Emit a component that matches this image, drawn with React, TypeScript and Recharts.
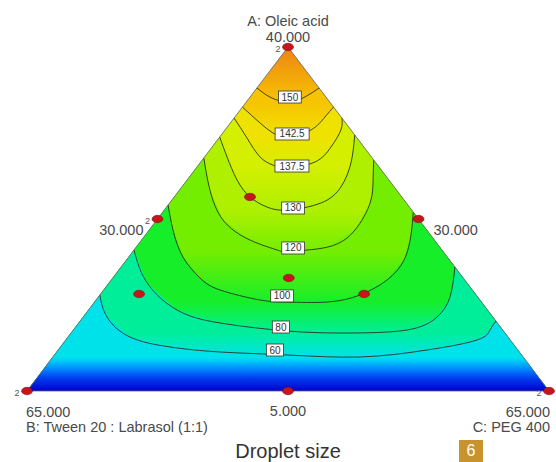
import React from 'react';
import { ComposedChart, Area, Line, Scatter, XAxis, YAxis } from 'recharts';

// mixture region: A 5..40, B 30..65, C 30..65 (sum 100)
const A_MIN = 5;
const C_MIN = 30;
const SPAN = 35;

// corner compositions as [A, C]
const cornerTop = [40, 30];
const cornerLeft = [5, 30];
const cornerRight = [5, 65];

const componentNames = ['A: Oleic acid', 'B: Tween 20 : Labrasol (1:1)', 'C: PEG 400'];
const vertexValues = ['40.000', '65.000', '65.000'];
const edgeLowValues = ['30.000', '30.000', '5.000'];

// contour levels of droplet size, highest first
const levels = [150, 142.5, 137.5, 130, 120, 100, 80, 60];

// contour traces, [A: Oleic acid, C: PEG 400]
const c150 = [[35.83, 30], [34.91, 31.33], [34.4, 32.8], [34.91, 33.68], [35.83, 34.17]];
const c1425 = [[33.89, 30], [32.27, 31.99], [31.25, 33.37], [30.84, 34.58], [31.55, 35.76], [32.88, 36.04], [33.89, 36.11]];
const c1375 = [[32.77, 30], [30.74, 31.88], [28.81, 33.72], [27.99, 34.99], [27.69, 36.16], [28.3, 37.66], [29.82, 37.97], [31.55, 37.77], [32.77, 37.23]];
const c130 = [[30.84, 30], [28.81, 31.51], [26.47, 33.35], [24.74, 35.08], [23.72, 36.73], [23.41, 38.29], [24.13, 40.15], [25.75, 40.67], [28.2, 40.12], [31.05, 38.95]];
const c120 = [[28.71, 30], [25.45, 32.04], [22.4, 34.44], [20.36, 37.27], [19.35, 39.59], [19.24, 40.38], [19.65, 42.85], [21.38, 43.8], [24.13, 43.44], [26.47, 42.47], [28.5, 41.5]];
const c100 = [[23.92, 30], [21.38, 31.6], [18.63, 33.64], [16.5, 35.85], [15.28, 37.8], [14.26, 40.99], [14.05, 42.97], [14.05, 45.59], [14.77, 47.45], [16.29, 48.49], [18.33, 48.62], [20.87, 47.81], [23.21, 46.79]];
const c80 = [[19.35, 30], [15.99, 32.56], [13.24, 35.94], [11.92, 39.48], [11.1, 44.45], [10.9, 48.51], [11.21, 52.38], [12.53, 53.73], [14.56, 53.58], [17.62, 52.38]];
const c60 = [[14.77, 30], [12.53, 31.6], [10.49, 34.16], [9.48, 37.35], [8.97, 40.96], [8.66, 45.67], [8.46, 50.6], [9.17, 54.73], [10.19, 57.58], [11.21, 57.94], [12.12, 57.88]];
const contours = [c150, c1425, c1375, c130, c120, c100, c80, c60];

// where the level boxes sit
const labelSpots = [[34.91, 32.67], [31.15, 34.7], [27.89, 36.32], [23.62, 38.53], [19.55, 40.57], [14.67, 42.27], [11.51, 43.77], [9.17, 44.54]];

// design points [A, C] and replicate count
const designPts = [
  [40, 30, 2], [5, 30, 2], [5, 65, 2], [22.5, 30, 2], [22.5, 47.5, 1], [5, 47.5, 1],
  [16.5, 41.8, 1], [24.74, 35.08, 1], [14.87, 32.58, 1], [14.87, 47.67, 1],
];

const levelColor: Record<string, string> = {
  150: '#f6c400', 142.5: '#f0e200', 137.5: '#d4ef00', 130: '#aef000',
  120: '#74ee00', 100: '#16ee2a', 80: '#00ee9a', 60: '#00e2ea',
};
const FONT = '"Liberation Sans", Arial, sans-serif';

const toXY = (p: number[]) => ({
  x: (p[1] - C_MIN) / SPAN + (p[0] - A_MIN) / (2 * SPAN),
  y: (p[0] - A_MIN) / SPAN,
});

const triangle = [cornerLeft, cornerTop, cornerRight].map(toXY);
const outline = [cornerLeft, cornerTop, cornerRight, cornerLeft].map(toXY);

const bands = contours.map((pts, i) => {
  const xy = pts.map(toXY);
  const top = Math.max(...xy.map(p => p.y));
  const low = Math.min(...xy.map(p => p.y));
  const next = i < contours.length - 1 ? Math.min(...contours[i + 1].map(p => toXY(p).y)) : 0;
  return { level: levels[i], xy, top, low, next, data: [toXY(cornerLeft), ...xy, toXY(cornerRight)] };
});

const labelData = labelSpots.map((p, i) => ({ ...toXY(p), text: String(levels[i]) }));
const dotData = designPts.map(p => ({ ...toXY(p), reps: p[2] }));
const axisText = [
  { ...toXY(cornerTop), kind: 'top', value: vertexValues[0], name: componentNames[0] },
  { ...toXY(cornerLeft), kind: 'left', value: vertexValues[1], name: componentNames[1] },
  { ...toXY(cornerRight), kind: 'right', value: vertexValues[2], name: componentNames[2] },
  { ...toXY([22.5, 30]), kind: 'edgeL', value: edgeLowValues[0] },
  { ...toXY([22.5, 47.5]), kind: 'edgeR', value: edgeLowValues[1] },
  { ...toXY([5, 47.5]), kind: 'edgeB', value: edgeLowValues[2] },
];

const txt = { fontFamily: FONT, fontSize: 14.5, fill: '#4a4a4a' };

const AxisTextShape = (props: any) => {
  const { cx, cy, payload } = props;
  switch (payload.kind) {
    case 'top':
      return (
        <g>
          <text x={cx} y={cy - 21} textAnchor="middle" {...txt}>{payload.name}</text>
          <text x={cx} y={cy - 5} textAnchor="middle" {...txt}>{payload.value}</text>
        </g>
      );
    case 'left':
      return (
        <g>
          <text x={cx - 1} y={cy + 26} textAnchor="start" {...txt}>{payload.value}</text>
          <text x={cx - 1} y={cy + 41} textAnchor="start" {...txt}>{payload.name}</text>
        </g>
      );
    case 'right':
      return (
        <g>
          <text x={cx + 1} y={cy + 26} textAnchor="end" {...txt}>{payload.value}</text>
          <text x={cx + 1} y={cy + 41} textAnchor="end" {...txt}>{payload.name}</text>
        </g>
      );
    case 'edgeL':
      return <text x={cx - 14} y={cy + 16} textAnchor="end" {...txt}>{payload.value}</text>;
    case 'edgeR':
      return <text x={cx + 15} y={cy + 16} textAnchor="start" {...txt}>{payload.value}</text>;
    default:
      return <text x={cx} y={cy + 25} textAnchor="middle" {...txt}>{payload.value}</text>;
  }
};

const LevelBox = (props: any) => {
  const { cx, cy, payload } = props;
  const w = payload.text.length * 5.6 + 6;
  return (
    <g>
      <rect x={cx - w / 2} y={cy - 6} width={w} height={12} fill="#fff" stroke="#333" strokeWidth={0.8} />
      <text x={cx} y={cy + 3.5} textAnchor="middle" fontFamily={FONT} fontSize={10} fill="#333">{payload.text}</text>
    </g>
  );
};

const DesignDot = (props: any) => {
  const { cx, cy, payload } = props;
  return (
    <g>
      <ellipse cx={cx} cy={cy} rx={5.5} ry={3.7} fill="#c4161c" stroke="#8a0a0a" strokeWidth={0.6} />
      {payload.reps > 1 && (
        <text x={cx - 10} y={cy + 5} textAnchor="middle" fontFamily={FONT} fontSize={9} fill="#555">{payload.reps}</text>
      )}
    </g>
  );
};

export default function App() {
  return (
    <div style={{ position: 'absolute', left: 0, top: 0, width: 556, height: 462, background: '#fff' }}>
      <ComposedChart width={556} height={462} margin={{ top: 47, right: 7, bottom: 71, left: 27 }}>
        <defs>
          <linearGradient id="topBand" x1="0" y1="0" x2="0" y2="1">
            <stop offset={0} stopColor="#ee8414" />
            <stop offset={1 - bands[0].low} stopColor={levelColor[150]} />
          </linearGradient>
          {bands.map((b, i) => (
            <linearGradient key={b.level} id={`band${i}`} x1="0" y1="0" x2="0" y2="1">
              <stop offset={1 - b.low / b.top} stopColor={levelColor[b.level]} />
              {i < bands.length - 1 ? (
                <stop offset={1 - b.next / b.top} stopColor={levelColor[levels[i + 1]]} />
              ) : (
                [
                  <stop key="a" offset={1 - 0.088 / b.top} stopColor="#00ccf8" />,
                  <stop key="b" offset={1 - 0.065 / b.top} stopColor="#008cff" />,
                  <stop key="c" offset={1 - 0.038 / b.top} stopColor="#003ef0" />,
                  <stop key="d" offset={1} stopColor="#0000cc" />,
                ]
              )}
            </linearGradient>
          ))}
        </defs>
        <XAxis type="number" dataKey="x" domain={[0, 1]} hide />
        <YAxis type="number" dataKey="y" domain={[0, 1]} hide />

        <Area data={triangle} type="linear" dataKey="y" stroke="none" fill="url(#topBand)" fillOpacity={1}
          dot={false} activeDot={false} isAnimationActive={false} />
        {bands.map((b, i) => (
          <Area key={`a${b.level}`} data={b.data} type="linear" dataKey="y" stroke="none" fill={`url(#band${i})`}
            fillOpacity={1} dot={false} activeDot={false} isAnimationActive={false} />
        ))}

        {bands.map(b => (
          <Line key={`l${b.level}`} data={b.xy} type="natural" dataKey="y" stroke="#2b3320" strokeWidth={0.9}
            dot={false} activeDot={false} isAnimationActive={false} />
        ))}
        <Line data={outline} type="linear" dataKey="y" stroke="#5d6670" strokeWidth={0.8}
          dot={false} activeDot={false} isAnimationActive={false} />

        <Scatter data={labelData} shape={LevelBox} isAnimationActive={false} />
        <Scatter data={axisText} shape={AxisTextShape} isAnimationActive={false} />
        <Scatter data={dotData} shape={DesignDot} isAnimationActive={false} />
      </ComposedChart>
      <div style={{ position: 'absolute', left: 0, top: 440, width: 576, textAlign: 'center', fontFamily: FONT, fontSize: 20, color: '#333' }}>
        Droplet size
      </div>
      <div style={{ position: 'absolute', left: 459, top: 440, width: 24, height: 22, background: '#c8922c', color: '#fff',
        fontFamily: FONT, fontSize: 16, lineHeight: '22px', textAlign: 'center' }}>
        6
      </div>
    </div>
  );
}
